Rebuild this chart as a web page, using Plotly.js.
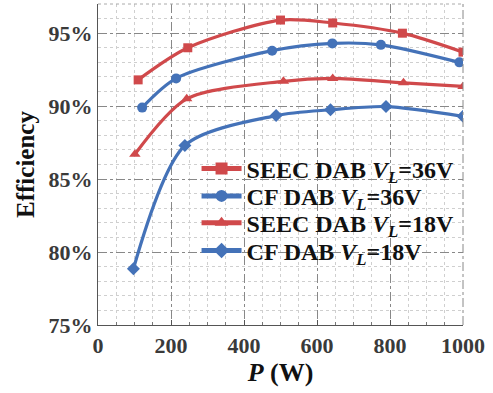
<!DOCTYPE html>
<html><head><meta charset="utf-8">
<script src="https://cdn.plot.ly/plotly-3.0.1.min.js"></script>
<style>html,body{margin:0;padding:0;background:#fff}#c{width:493px;height:393px}</style>
</head><body><div id="c"></div>
<script>
const seriesNames = [
  'SEEC DAB <i>V<sub>L</sub></i>=36V',
  'CF DAB <i>V<sub>L</sub></i>=36V',
  'SEEC DAB <i>V<sub>L</sub></i>=18V',
  'CF DAB <i>V<sub>L</sub></i>=18V'
];
const seec36P = [110, 246, 500, 643, 834, 1000];
const seec36E = [91.8, 94.0, 95.9, 95.7, 95.0, 93.7];
const cf36P = [121, 214, 477, 642, 775, 990];
const cf36E = [89.9, 91.9, 93.8, 94.3, 94.2, 93.0];
const seec18P = [101, 243, 508, 643, 837, 1000];
const seec18E = [86.7, 90.5, 91.7, 91.9, 91.6, 91.35];
const cf18P = [97, 238, 488, 637, 789, 1000];
const cf18E = [78.85, 87.3, 89.35, 89.75, 89.97, 89.3];
const yTicks = [75, 80, 85, 90, 95];
const xTicks = [0, 200, 400, 600, 800, 1000];

const red = '#d0494b', blue = '#4472b8';
const serif = 'Liberation Serif, Times New Roman, serif';
function tr(x, y, name, color, sym, ms, lg) {
  return {x: x, y: y, name: name, type: 'scatter', mode: 'lines+markers', legend: lg,
    line: {color: color, width: 3.2, shape: 'spline', smoothing: 0.8},
    marker: {color: color, symbol: sym, size: ms}, cliponaxis: true};
}
const data = [
  tr(seec36P, seec36E, seriesNames[0], red, 'square', 9, 'legend'),
  tr(cf36P, cf36E, seriesNames[1], blue, 'circle', 10, 'legend2'),
  tr(seec18P, seec18E, seriesNames[2], red, 'triangle-up', 10, 'legend3'),
  tr(cf18P, cf18E, seriesNames[3], blue, 'diamond', 10, 'legend4')
];
const tf = {family: serif, size: 22, color: '#3a3a3a', weight: 'bold'};
function lg(y) {
  return {x: 0.27, y: y, xanchor: 'left', yanchor: 'middle', bgcolor: 'rgba(0,0,0,0)',
    itemsizing: 'constant',
    font: {family: serif, size: 24, color: '#111', weight: 'bold'}, itemwidth: 40};
}
const layout = {
  width: 493, height: 393,
  margin: {l: 98, r: 30, t: 4, b: 68},
  paper_bgcolor: '#fff', plot_bgcolor: '#fff',
  showlegend: true,
  legend: lg(0.486), legend2: lg(0.401), legend3: lg(0.317), legend4: lg(0.231),
  xaxis: {range: [0, 1000], tickvals: xTicks, ticktext: xTicks.map(String),
    showline: true, linecolor: '#555', linewidth: 1.2, mirror: false,
    showgrid: true, gridcolor: '#888', griddash: 'dashdot', gridwidth: 1,
    ticks: 'inside', ticklen: 5, tickcolor: '#555',
    minor: {dtick: 50, showgrid: true, gridcolor: '#cfcfcf', griddash: 'dot', ticks: 'inside', ticklen: 3, tickcolor: '#777'},
    zeroline: false, tickfont: tf,
    title: {text: '<i>P</i> (W)', font: {family: serif, size: 26, color: '#111', weight: 'bold'}, standoff: 6}},
  yaxis: {range: [75, 97], tickvals: yTicks, ticktext: yTicks.map(v => v + '%'),
    showline: true, linecolor: '#555', linewidth: 1.2, mirror: false,
    showgrid: true, gridcolor: '#888', griddash: 'dashdot', gridwidth: 1,
    ticks: '', ticklabelstandoff: 0,
    minor: {dtick: 1, tick0: 75, showgrid: true, gridcolor: '#cfcfcf', griddash: 'dot'},
    zeroline: false, tickfont: tf,
    title: {text: 'Efficiency', font: {family: serif, size: 25, color: '#111', weight: 'bold'}, standoff: 6}},
  shapes: [
    {type: 'line', xref: 'paper', yref: 'paper', x0: 0, x1: 1, y0: 1, y1: 1, line: {color: '#aaa', width: 1, dash: 'dot'}},
    {type: 'line', xref: 'paper', yref: 'paper', x0: 1, x1: 1, y0: 0, y1: 1, line: {color: '#888', width: 1, dash: 'dashdot'}}
  ]
};
Plotly.newPlot('c', data, layout, {displayModeBar: false, staticPlot: true});
</script></body></html>
